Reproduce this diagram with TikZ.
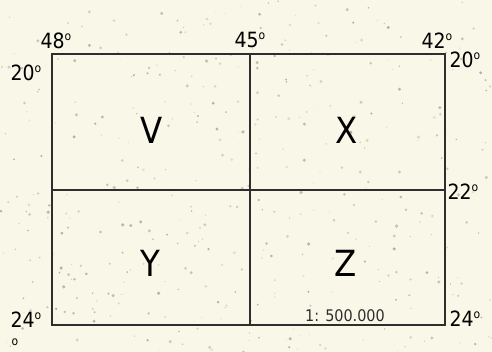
\documentclass[tikz,border=0pt]{standalone}
\usepackage{fontspec}
\setmainfont{DejaVu Sans Condensed}
\newfontfamily\scalefont{DejaVu Sans Condensed}
\definecolor{paper}{HTML}{F9F7E8}
\definecolor{speck}{HTML}{8C8A7C}
\definecolor{ink}{HTML}{2E2E2E}
\newcommand{\dg}[1]{#1\raisebox{0.38em}{\fontsize{12}{12}\selectfont o}}
\begin{document}
\begin{tikzpicture}[x=1pt,y=-1pt,
  gridline/.style={draw=ink,line width=1.3pt},
  deg/.style={font=\fontsize{21}{21}\selectfont,text=black,inner sep=0pt},
  quad/.style={font=\fontsize{36}{36}\selectfont,text=black,inner sep=0pt},
  scalelbl/.style={font=\scalefont\fontsize{16}{16}\selectfont,text=ink,inner sep=0pt}]
\useasboundingbox (0,0) rectangle (492,352);
\fill[paper] (0,0) rectangle (492,352);
\pgfmathsetseed{7}
\foreach \i in {1,...,420}{
  \pgfmathsetmacro{\px}{rnd*492}
  \pgfmathsetmacro{\py}{rnd*352}
  \pgfmathsetmacro{\pr}{0.4+rnd*1.4}
  \pgfmathsetmacro{\po}{0.2+rnd*0.45}
  \fill[speck,opacity=\po] (\px,\py) circle[radius=\pr];
}
\coordinate (tl) at (52,54);
\coordinate (tr) at (445,54);
\coordinate (bl) at (52,325);
\coordinate (br) at (445,325);
\coordinate (tm) at (250,54);
\coordinate (bm) at (250,325);
\coordinate (ml) at (52,190);
\coordinate (mr) at (445,190);
\draw[gridline] (tl) rectangle (br);
\draw[gridline] (tm) -- (bm);
\draw[gridline] (ml) -- (mr);
\node[deg] (a48) at (56,41) {\dg{48}};
\node[deg] (a45) at (250,40) {\dg{45}};
\node[deg] (a42) at (437,41) {\dg{42}};
\node[deg] (l20) at (26,73) {\dg{20}};
\node[deg] (r20) at (465,60) {\dg{20}};
\node[deg] (r22) at (463,192) {\dg{22}};
\node[deg] (l24) at (26,320) {\dg{24}};
\node[deg] (r24) at (465,319) {\dg{24}};
\node[font=\fontsize{12}{12}\selectfont,inner sep=0pt] (stray) at (15,342) {o};
\node[quad] (V) at (152,130) {V};
\node[quad] (X) at (347,130) {X};
\node[quad] (Y) at (150,263) {Y};
\node[quad] (Z) at (346,263) {Z};
\node[scalelbl] (sc) at (345,316) {1: 500.000};
\end{tikzpicture}
\end{document}
